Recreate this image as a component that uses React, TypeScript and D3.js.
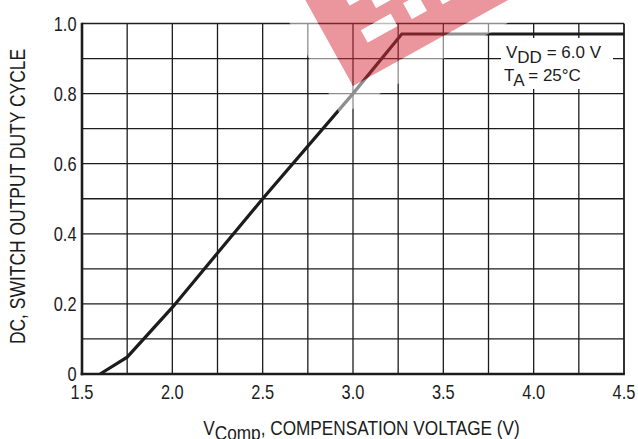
import React from "react";
import * as d3 from "d3";

// Duty cycle vs compensation voltage (VDD = 6.0 V, TA = 25°C)
const vComp = [1.6, 1.75, 2.0, 2.5, 3.0, 3.27, 4.5];
const dutyCycle = [0.0, 0.048, 0.19, 0.5, 0.8, 0.97, 0.97];

const xTickValues = [1.5, 2.0, 2.5, 3.0, 3.5, 4.0, 4.5];
const xTickLabels = ["1.5", "2.0", "2.5", "3.0", "3.5", "4.0", "4.5"];
const yTickValues = [0, 0.2, 0.4, 0.6, 0.8, 1.0];
const yTickLabels = ["0", "0.2", "0.4", "0.6", "0.8", "1.0"];
const xGridValues = [1.75, 2.0, 2.25, 2.5, 2.75, 3.0, 3.25, 3.5, 3.75, 4.0, 4.25];
const yGridValues = [0.1, 0.2, 0.3, 0.4, 0.5, 0.6, 0.7, 0.8, 0.9];

const W = 638;
const H = 439;
const PLOT = { left: 82, right: 624, top: 23.5, bottom: 374 };

const FONT = "'Liberation Sans', Arial, sans-serif";
const INK = "#1c1c1c";
const SQUEEZE = 0.82; // condensed lettering

type NProps = {
  x: number;
  y: number;
  size: number;
  anchor?: "start" | "middle" | "end";
  rotate?: number;
  children: React.ReactNode;
};

// text drawn in a horizontally condensed face
function NText({ x, y, size, anchor = "start", rotate = 0, children }: NProps) {
  return (
    <text
      transform={`translate(${x},${y}) rotate(${rotate}) scale(${SQUEEZE},1)`}
      textAnchor={anchor}
      fontFamily={FONT}
      fontSize={size}
      fill={INK}
    >
      {children}
    </text>
  );
}

export default function App() {
  const x = d3.scaleLinear().domain([1.5, 4.5]).range([PLOT.left, PLOT.right]);
  const y = d3.scaleLinear().domain([0, 1]).range([PLOT.bottom, PLOT.top]);

  const pts: [number, number][] = vComp.map((v, i) => [v, dutyCycle[i]]);
  const line = d3
    .line<[number, number]>()
    .x((d) => x(d[0]))
    .y((d) => y(d[1]));

  // watermark geometry in its own rotated frame
  const outer = "M-25,-200 H285 V20 H-25 Z";
  const inner = "M0,-180 H260 V0 H0 Z";
  const holes = [
    { x: 34, y: -45, w: 34, h: 14 },
    { x: 84, y: -48, w: 17, h: 18 },
    { x: 58, y: -90, w: 20, h: 33 },
    { x: 36, y: -100, w: 14, h: 28 },
    { x: 118, y: -60, w: 18, h: 32 },
  ];
  const holePath = holes
    .map((r) => `M${r.x},${r.y} h${r.w} v${r.h} h${-r.w} Z`)
    .join(" ");

  return (
    <svg
      width={W}
      height={H}
      viewBox={`0 0 ${W} ${H}`}
      style={{ position: "absolute", left: 0, top: 0, background: "#fff" }}
    >
      <rect x={0} y={0} width={W} height={H} fill="#fff" />

      {/* grid */}
      <g stroke={INK} strokeWidth={1.3}>
        {xGridValues.map((v) => (
          <line key={"gx" + v} x1={x(v)} x2={x(v)} y1={y(0)} y2={y(1)} />
        ))}
        {yGridValues.map((v) => (
          <line key={"gy" + v} x1={x(1.5)} x2={x(4.5)} y1={y(v)} y2={y(v)} />
        ))}
        <line x1={x(1.5)} x2={x(4.5)} y1={y(1)} y2={y(1)} strokeWidth={1.6} />
        <line x1={x(4.5)} x2={x(4.5)} y1={y(0)} y2={y(1)} strokeWidth={1.8} />
      </g>

      {/* condition box */}
      <rect x={501} y={38} width={112} height={51} fill="#fff" />
      <g fontFamily={FONT} fontSize={17} fill={INK}>
        <text x={506} y={57.5}>
          V<tspan dy={5}>DD</tspan>
          <tspan dy={-5}> = 6.0 V</tspan>
        </text>
        <text x={504} y={80.5}>
          T<tspan dy={5}>A</tspan>
          <tspan dy={-5}> = 25°C</tspan>
        </text>
      </g>

      {/* axes */}
      <g stroke={INK} strokeWidth={2.6}>
        <line x1={x(1.5)} x2={x(1.5)} y1={y(0) + 1.3} y2={y(1) - 0.8} />
        <line x1={x(1.5) - 1.3} x2={x(4.5) + 0.9} y1={y(0)} y2={y(0)} />
      </g>

      {/* curve */}
      <path
        d={line(pts) || ""}
        fill="none"
        stroke={INK}
        strokeWidth={3.2}
        strokeLinejoin="miter"
      />

      {/* tick labels */}
      {xTickValues.map((v, i) => (
        <NText key={"xt" + v} x={x(v)} y={398.5} size={20} anchor="middle">
          {xTickLabels[i]}
        </NText>
      ))}
      {yTickValues.map((v, i) => (
        <NText key={"yt" + v} x={76.5} y={y(v) + 7.2} size={20} anchor="end">
          {yTickLabels[i]}
        </NText>
      ))}

      {/* axis titles */}
      <NText x={361.5} y={434.5} size={21} anchor="middle">
        V<tspan dy={5}>Comp</tspan>
        <tspan dy={-5}>, COMPENSATION VOLTAGE (V)</tspan>
      </NText>
      <NText x={25} y={196.5} size={21.3} anchor="middle" rotate={-90}>
        DC, SWITCH OUTPUT DUTY CYCLE
      </NText>

      {/* watermark */}
      <g transform="translate(353,86) rotate(-29)">
        <path d={`${outer} ${inner}`} fillRule="evenodd" fill="#fff" opacity={0.5} />
        <path
          d={`${inner} ${holePath}`}
          fillRule="evenodd"
          fill="rgb(214,46,58)"
          opacity={0.5}
        />
        <path d={holePath} fill="#fff" opacity={0.7} />
      </g>
    </svg>
  );
}
